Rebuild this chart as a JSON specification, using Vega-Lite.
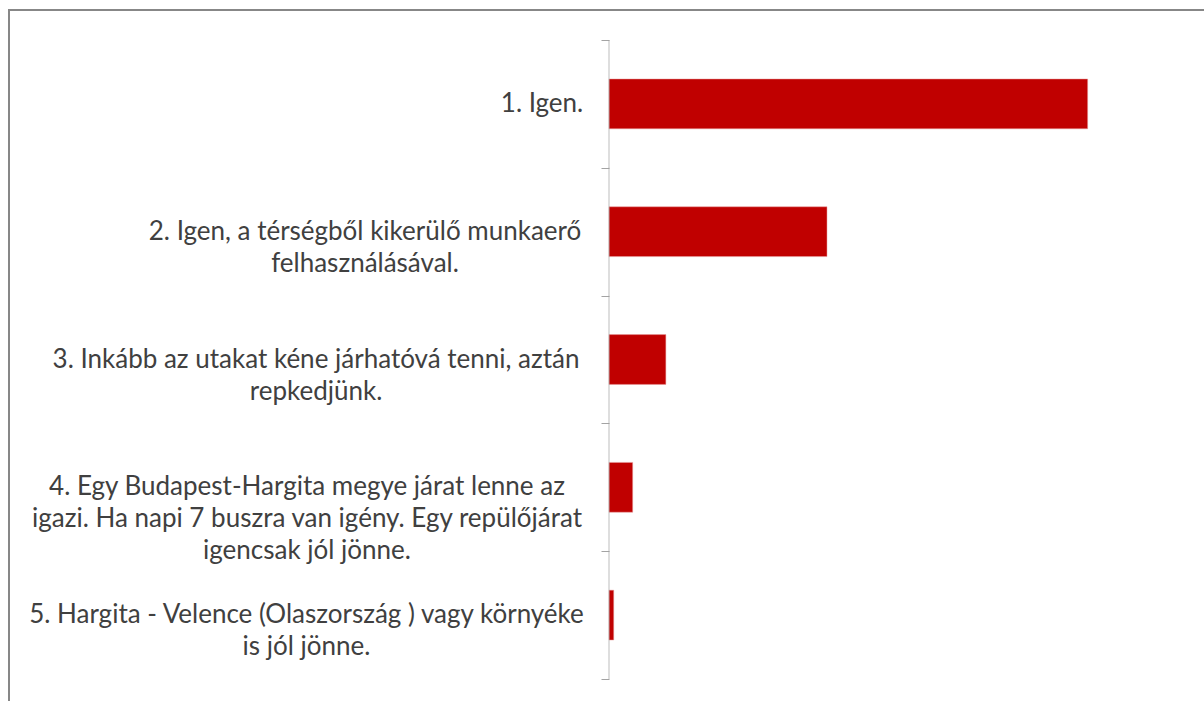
{
  "$schema": "https://vega.github.io/schema/vega-lite/v6.json",
  "autosize": "none",
  "padding": {"left": 9, "top": 10, "right": 0, "bottom": 0},
  "width": 1200,
  "height": 699,
  "background": "white",
  "config": {
    "view": {"stroke": "#878787", "strokeWidth": 2}
  },
  "data": {
    "values": [
      {"answer": "1. Igen.", "n": 101},
      {"answer": "2. Igen, a térségből kikerülő munkaerő|felhasználásával.", "n": 46},
      {"answer": "3. Inkább az utakat kéne járhatóvá tenni, aztán|repkedjünk.", "n": 12},
      {"answer": "4. Egy Budapest-Hargita megye járat lenne az |igazi. Ha napi 7 buszra van igény. Egy repülőjárat|igencsak jól jönne.", "n": 5},
      {"answer": "5. Hargita - Velence (Olaszország ) vagy környéke|is jól jönne.", "n": 1}
    ]
  },
  "encoding": {
    "y": {
      "field": "answer",
      "type": "nominal",
      "sort": null,
      "scale": {"paddingInner": 0, "paddingOuter": 0.2347},
      "axis": {
        "title": null,
        "domain": false,
        "ticks": true,
        "tickBand": "extent",
        "tickSize": 8,
        "tickColor": "#a3a3a3",
        "tickWidth": 1,
        "offset": -600,
        "labels": false
      }
    },
    "x": {
      "field": "n",
      "type": "quantitative",
      "scale": {"domain": [-126.6, 126.6], "nice": false, "zero": false},
      "axis": null
    }
  },
  "layer": [
    {
      "mark": {"type": "bar", "color": "#c00000", "height": {"band": 0.39}, "stroke": "#e8a0a0", "strokeWidth": 0.5}
    },
    {
      "mark": {"type": "tick", "color": "#a3a3a3", "thickness": 1, "size": 128},
      "encoding": {
        "x": {"datum": 0, "type": "quantitative"}
      }
    },
    {
      "mark": {
        "type": "text",
        "font": "Lato",
        "fontSize": 26,
        "lineHeight": 32,
        "lineBreak": "|",
        "color": "#404040",
        "align": "center",
        "baseline": "middle",
        "dx": {"expr": "indexof(datum.answer, '1.') == 0 ? -67 : indexof(datum.answer, '2.') == 0 ? -244 : indexof(datum.answer, '3.') == 0 ? -293 : indexof(datum.answer, '4.') == 0 ? -302 : -302.5"}
      },
      "encoding": {
        "x": {"datum": 0, "type": "quantitative"},
        "text": {"field": "answer"}
      }
    }
  ]
}
